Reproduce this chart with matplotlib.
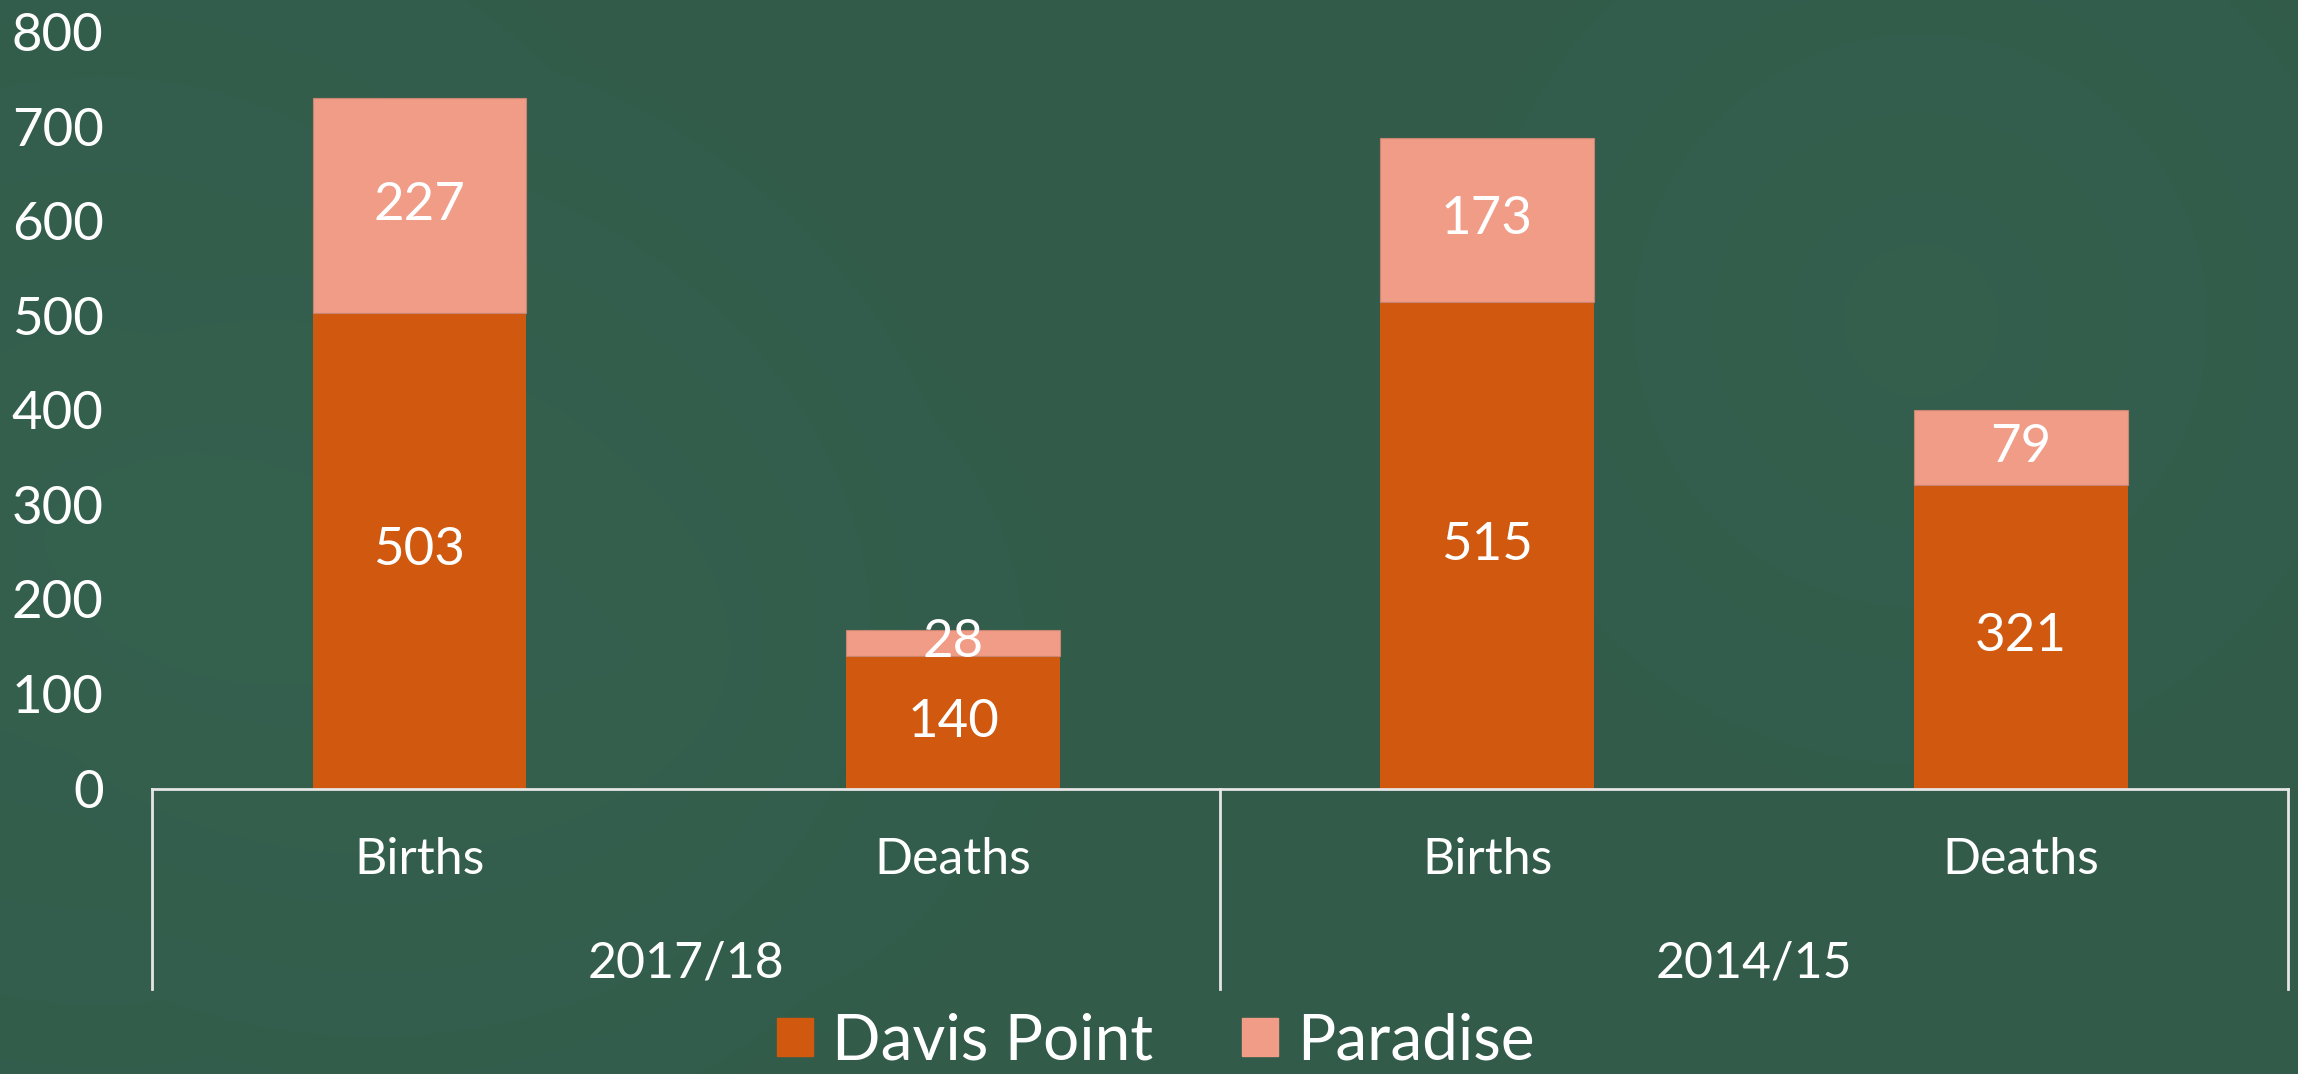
import numpy as np
import matplotlib
matplotlib.use("Agg")
import matplotlib.pyplot as plt
from matplotlib.patches import Patch

plt.rcParams['font.family'] = ['Lato', 'DejaVu Sans']

# data
categories = ["Births", "Deaths", "Births", "Deaths"]
groups = ["2017/18", "2014/15"]
davis_point = [503, 140, 515, 321]
paradise = [227, 28, 173, 79]
y_ticks = [0, 100, 200, 300, 400, 500, 600, 700, 800]

c_davis = "#D0580F"
c_paradise = "#F09C87"
c_bg = "#325B4A"
txt = "white"

fig = plt.figure(figsize=(22.98, 10.74), dpi=100)
fig.patch.set_facecolor(c_bg)

# soft radial glow in the background, like the slide theme
bg = fig.add_axes([0, 0, 1, 1], zorder=-5)
bg.axis("off")
h, w = 537, 1149
yy, xx = np.mgrid[0:h, 0:w]
base = np.array([0x32, 0x5B, 0x4A]) / 255.0
glow = np.zeros((h, w))
for cx, cy, r, a in [(50, 270, 420, 0.035), (960, 160, 300, 0.03), (330, 330, 300, 0.02)]:
    d = np.sqrt((xx - cx) ** 2 + (yy - cy) ** 2) / r
    glow += a * np.clip(1 - d, 0, 1)
img = np.clip(base[None, None, :] + glow[..., None] * np.array([0.3, 0.6, 0.5]), 0, 1)
bg.imshow(img, aspect="auto", extent=[0, 1, 0, 1], interpolation="bilinear")
bg.set_xlim(0, 1)
bg.set_ylim(0, 1)

ax = fig.add_axes([0.0663, 0.2658, 0.9293, 0.7042])
ax.set_facecolor("none")

x = np.arange(len(categories))
bw = 0.4
b1 = ax.bar(x, davis_point, width=bw, color=c_davis, zorder=2)
b2 = ax.bar(x, paradise, width=bw, bottom=davis_point, color=c_paradise,
            edgecolor="#C98472", linewidth=0.8, zorder=2)

ax.bar_label(b1, labels=[str(v) for v in davis_point], label_type="center",
             color=txt, fontsize=38)
ax.bar_label(b2, labels=[str(v) for v in paradise], label_type="center",
             color=txt, fontsize=38)

ax.set_xlim(-0.5, len(categories) - 0.5)
ax.set_ylim(0, 800)
ax.set_yticks(y_ticks)
ax.set_yticklabels([str(t) for t in y_ticks], color=txt, fontsize=38)
ax.tick_params(axis="y", length=0, pad=35)

ax.set_xticks(x)
ax.set_xticklabels(categories, color=txt, fontsize=36)
ax.tick_params(axis="x", length=0, pad=35)

for s in ["top", "right", "left"]:
    ax.spines[s].set_visible(False)
ax.spines["bottom"].set_color("#E6E6E6")
ax.spines["bottom"].set_linewidth(2)

# multi-level category box
tr = ax.get_xaxis_transform()
for xv in [-0.5, 1.5, 3.5]:
    ax.plot([xv, xv], [0, -0.265], transform=tr, color="#E6E6E6", lw=2, clip_on=False)
for i, g in enumerate(groups):
    ax.text(2 * i + 0.5, -0.232, g, transform=tr, ha="center", va="center",
            color=txt, fontsize=36)

handles = [Patch(color=c_davis, label="Davis Point"), Patch(color=c_paradise, label="Paradise")]
leg = fig.legend(handles=handles, loc="center", bbox_to_anchor=(0.503, 0.03), ncol=2,
                 frameon=False, fontsize=46, handlelength=0.55, handleheight=0.55,
                 handletextpad=0.3, columnspacing=1.4, borderaxespad=0)
for t in leg.get_texts():
    t.set_color(txt)

plt.savefig("out.png", dpi=100, facecolor=fig.get_facecolor())
